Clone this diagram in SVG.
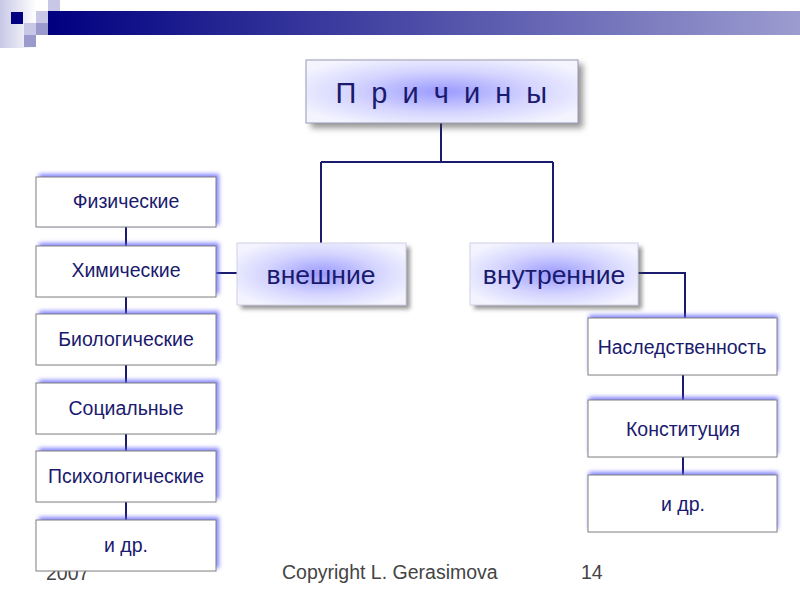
<svg xmlns="http://www.w3.org/2000/svg" width="800" height="600" viewBox="0 0 800 600">
<defs>
<linearGradient id="bar" x1="0" y1="0" x2="1" y2="0">
<stop offset="0" stop-color="#000080"/>
<stop offset="1" stop-color="#9c9cd0"/>
</linearGradient>
<linearGradient id="edge" x1="0" y1="0" x2="1" y2="0">
<stop offset="0" stop-color="#c8c8e6"/>
<stop offset="1" stop-color="#ffffff"/>
</linearGradient>
<radialGradient id="glowfill" cx="0.5" cy="0.5" r="0.6">
<stop offset="0" stop-color="#9a9aff"/>
<stop offset="0.55" stop-color="#d4d4ff"/>
<stop offset="1" stop-color="#f4f4ff"/>
</radialGradient>
<filter id="blur4" x="-20%" y="-40%" width="140%" height="180%"><feGaussianBlur stdDeviation="3"/></filter>
<filter id="blur2" x="-20%" y="-40%" width="140%" height="180%"><feGaussianBlur stdDeviation="2"/></filter>
</defs>
<style>
.t{font-family:"Liberation Sans",Arial,sans-serif;fill:#1a1a6e;text-anchor:middle}
.small{font-size:19.5px}
.mid{font-size:26.5px}
.box{fill:#ffffff;stroke:#808080;stroke-width:1}
.bigbox{fill:url(#glowfill);stroke:#9a9ab4;stroke-width:1}
.glow{fill:#5a5aff;opacity:0.75}
.shadow{fill:#404040;opacity:0.55}
.conn{fill:none;stroke:#1a1a6e;stroke-width:2}
.foot{font-family:"Liberation Sans",Arial,sans-serif;fill:#444;font-size:19.5px}
</style>

<!-- header decoration -->
<g id="header">
<rect x="0" y="0" width="36" height="48" fill="url(#edge)"/>
<rect x="11" y="12" width="12" height="12" fill="#000080"/>
<rect x="36" y="11" width="12" height="12" fill="#c8c8e6"/>
<rect x="48" y="0" width="12" height="12" fill="#c8c8e6"/>
<rect x="48" y="12" width="12" height="11" fill="#9a9acc"/>
<rect x="24" y="23" width="12" height="12" fill="#c8c8e6"/>
<rect x="36" y="23" width="12" height="12" fill="#9a9acc"/>
<rect x="24" y="35" width="12" height="12" fill="#9a9acc"/>
<rect x="48" y="11" width="752" height="24" fill="url(#bar)"/>
</g>

<!-- footer -->
<g id="footer">
<text class="foot" x="46" y="580">2007</text>
<text class="foot" x="282" y="579">Copyright L. Gerasimova</text>
<text class="foot" x="581" y="579">14</text>
</g>

<!-- connectors -->
<g id="connectors">
<path class="conn" d="M441 123 V162 M321 162 H553 M321 162 V243 M553 162 V243"/>
<path class="conn" d="M216 273 H237"/>
<path class="conn" d="M638 273 H685 V318"/>
<path class="conn" d="M126 227 V246 M126 297 V314 M126 365 V383 M126 434 V451 M126 502 V520"/>
<path class="conn" d="M683 375 V400 M683 457 V475"/>
</g>

<g id="prichiny">
<rect class="shadow" x="311" y="64" width="272" height="64" filter="url(#blur4)"/>
<rect class="bigbox" x="306" y="60" width="272" height="63"/>
<text class="t" x="443" y="103" style="font-size:29px;letter-spacing:3.5px">П р и ч и н ы</text>
</g>

<g id="vneshnie">
<rect class="shadow" x="241" y="247" width="169" height="62" filter="url(#blur2)" opacity="0.35"/>
<rect class="bigbox" x="237" y="243" width="169" height="62" style="stroke:#d0d0e6"/>
<text class="t mid" x="321" y="284">внешние</text>
</g>

<g id="vnutrennie">
<rect class="shadow" x="474" y="247" width="168" height="62" filter="url(#blur2)" opacity="0.35"/>
<rect class="bigbox" x="470" y="243" width="168" height="62" style="stroke:#d0d0e6"/>
<text class="t mid" x="554" y="284">внутренние</text>
</g>

<g id="fizicheskie">
<rect class="glow" x="39" y="174" width="180" height="51" filter="url(#blur2)"/>
<rect class="box" x="36" y="177" width="180" height="50"/>
<text class="t small" x="126" y="208">Физические</text>
</g>
<g id="khimicheskie">
<rect class="glow" x="39" y="243" width="180" height="51" filter="url(#blur2)"/>
<rect class="box" x="36" y="246" width="180" height="51"/>
<text class="t small" x="126" y="277">Химические</text>
</g>
<g id="biologicheskie">
<rect class="glow" x="39" y="311" width="180" height="51" filter="url(#blur2)"/>
<rect class="box" x="36" y="314" width="180" height="51"/>
<text class="t small" x="126" y="346">Биологические</text>
</g>
<g id="socialnye">
<rect class="glow" x="39" y="380" width="180" height="51" filter="url(#blur2)"/>
<rect class="box" x="36" y="383" width="180" height="51"/>
<text class="t small" x="126" y="415">Социальные</text>
</g>
<g id="psikhologicheskie">
<rect class="glow" x="39" y="448" width="180" height="51" filter="url(#blur2)"/>
<rect class="box" x="36" y="451" width="180" height="51"/>
<text class="t small" x="126" y="483">Психологические</text>
</g>
<g id="idr-left">
<rect class="glow" x="39" y="517" width="180" height="51" filter="url(#blur2)"/>
<rect class="box" x="36" y="520" width="180" height="51"/>
<text class="t small" x="126" y="552">и др.</text>
</g>

<g id="nasledstvennost">
<rect class="glow" x="589" y="315" width="189" height="57" filter="url(#blur2)"/>
<rect class="box" x="588" y="318" width="189" height="57"/>
<text class="t small" x="682" y="354">Наследственность</text>
</g>
<g id="konstituciya">
<rect class="glow" x="589" y="397" width="189" height="57" filter="url(#blur2)"/>
<rect class="box" x="588" y="400" width="189" height="57"/>
<text class="t small" x="683" y="436">Конституция</text>
</g>
<g id="idr-right">
<rect class="glow" x="589" y="472" width="189" height="57" filter="url(#blur2)"/>
<rect class="box" x="588" y="475" width="189" height="57"/>
<text class="t small" x="683" y="511">и др.</text>
</g>
</svg>
